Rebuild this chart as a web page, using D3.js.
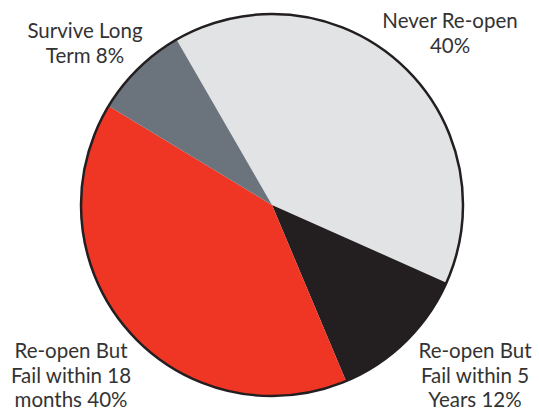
<!DOCTYPE html>
<html>
<head>
<meta charset="utf-8">
<script src="https://cdn.jsdelivr.net/npm/d3@7"></script>
<style>
  body { margin: 0; background: #fff; }
  svg text { font-family: Lato, "Noto Sans", sans-serif; font-size: 20.5px; fill: #333; }
</style>
</head>
<body>
<svg id="chart" width="539" height="412"></svg>
<script>
// slices in drawing order, clockwise from the top-left
var categories = ["Never Re-open", "Re-open But Fail within 5 Years", "Re-open But Fail within 18 months", "Survive Long Term"];
var values = [40, 12, 40, 8];
var colors = ["#e2e3e5", "#231f20", "#ef3524", "#6b737c"];
// label lines, same order as categories
var labelLines = [
  ["Never Re-open", "40%"],
  ["Re-open But", "Fail within 5", "Years 12%"],
  ["Re-open But", "Fail within 18", "months 40%"],
  ["Survive Long", "Term 8%"]
];
var labelPos = [[450, 28], [475, 358], [71, 358], [85, 38]];

var svg = d3.select("#chart");
var cx = 272, cy = 205, radius = 191;

var pie = d3.pie()
  .sort(null)
  .startAngle(-Math.PI / 6)
  .endAngle(-Math.PI / 6 + 2 * Math.PI)
  .value(function(d){ return d; });

var arc = d3.arc().innerRadius(0).outerRadius(radius);

var g = svg.append("g").attr("transform", "translate(" + cx + "," + cy + ")");

g.selectAll(".slice")
  .data(pie(values))
  .enter()
  .append("path")
  .attr("class", "slice")
  .attr("d", arc)
  .style("fill", function(d, i){ return colors[i]; });

// outline round the whole pie
g.append("circle")
  .attr("r", radius)
  .style("fill", "none")
  .style("stroke", "#231f20")
  .style("stroke-width", 2.5);

var lineH = 24.5;
labelLines.forEach(function(lines, i){
  var t = svg.append("text")
    .attr("text-anchor", "middle")
    .attr("x", labelPos[i][0])
    .attr("y", labelPos[i][1]);
  lines.forEach(function(l, j){
    t.append("tspan")
      .attr("x", labelPos[i][0])
      .attr("dy", j === 0 ? 0 : lineH)
      .text(l);
  });
});
</script>
</body>
</html>
